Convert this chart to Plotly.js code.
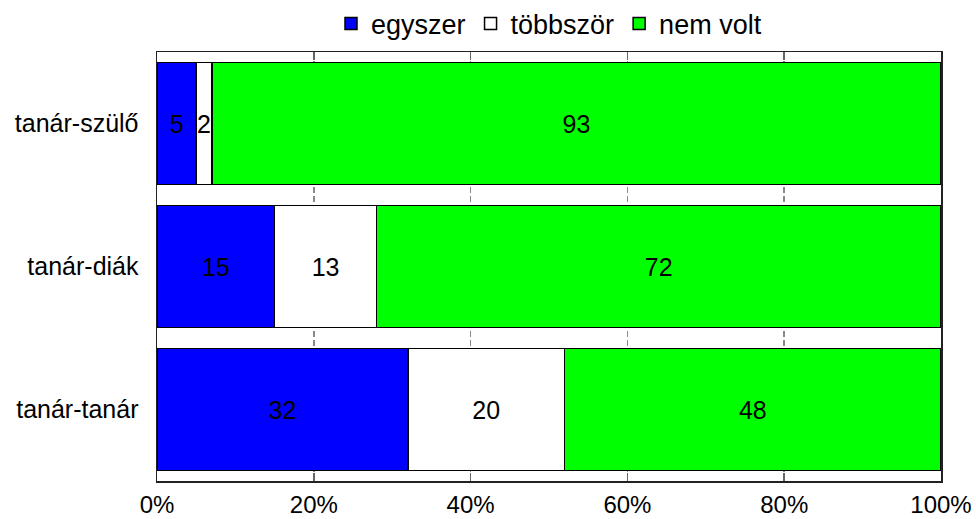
<!DOCTYPE html>
<html>
<head>
<meta charset="utf-8">
<script src="https://cdn.plot.ly/plotly-3.0.1.min.js"></script>
<style>html,body{margin:0;padding:0;background:#fff;}#chart{width:976px;height:519px;}</style>
</head>
<body>
<div id="chart"></div>
<script>
const categories = ["tanár-szülő", "tanár-diák", "tanár-tanár"];
const seriesNames = ["egyszer", "többször", "nem volt"];
const egyszer = [5, 15, 32];
const tobbszor = [2, 13, 20];
const nemVolt = [93, 72, 48];
const tickVals = [0, 20, 40, 60, 80, 100];
const tickLabels = ["0%", "20%", "40%", "60%", "80%", "100%"];

const colors = ["#0000FF", "#FFFFFF", "#00FF00"];
const seriesValues = [egyszer, tobbszor, nemVolt];
const FONT = "Liberation Sans, Arial, sans-serif";

const traces = seriesValues.map((vals, i) => ({
  type: "bar",
  orientation: "h",
  name: seriesNames[i],
  y: categories,
  x: vals,
  marker: { color: colors[i], line: { color: "#000", width: 1.5 } },
  text: vals.map(String),
  textposition: "inside",
  insidetextanchor: "middle",
  constraintext: "none",
  textfont: { family: FONT, size: 25, color: "#000" },
  hoverinfo: "skip"
}));

const layout = {
  width: 976, height: 519,
  margin: { l: 157, r: 35, t: 52, b: 38, autoexpand: false },
  paper_bgcolor: "#fff", plot_bgcolor: "#fff",
  barmode: "stack",
  bargap: 0.147,
  font: { family: FONT, size: 24, color: "#000" },
  showlegend: true,
  legend: {
    orientation: "h", x: 0.5, xanchor: "center", y: 0.954, yref: "container", yanchor: "middle",
    font: { family: FONT, size: 27, color: "#000" },
    itemwidth: 30, tracegroupgap: 0, traceorder: "normal",
    bgcolor: "rgba(0,0,0,0)"
  },
  xaxis: {
    range: [0, 100], tickvals: tickVals, ticktext: tickLabels,
    ticks: "inside", ticklen: 8, tickcolor: "#666", tickwidth: 1.5,
    showline: true, linecolor: "#222", linewidth: 1.5, mirror: "ticks",
    showgrid: true, gridcolor: "#888", gridwidth: 1.5, griddash: "6px,3px",
    zeroline: false, fixedrange: true, ticklabelstandoff: 2,
    tickfont: { family: FONT, size: 24, color: "#000" }
  },
  yaxis: {
    categoryorder: "array", categoryarray: categories, autorange: "reversed",
    ticks: "", showline: true, linecolor: "#222", linewidth: 1.5, mirror: true,
    showgrid: false, zeroline: false, ticklabelstandoff: 12,
    tickfont: { family: FONT, size: 25, color: "#000" }
  }
};

Plotly.newPlot("chart", traces, layout, { displayModeBar: false, staticPlot: true });
</script>
</body>
</html>
